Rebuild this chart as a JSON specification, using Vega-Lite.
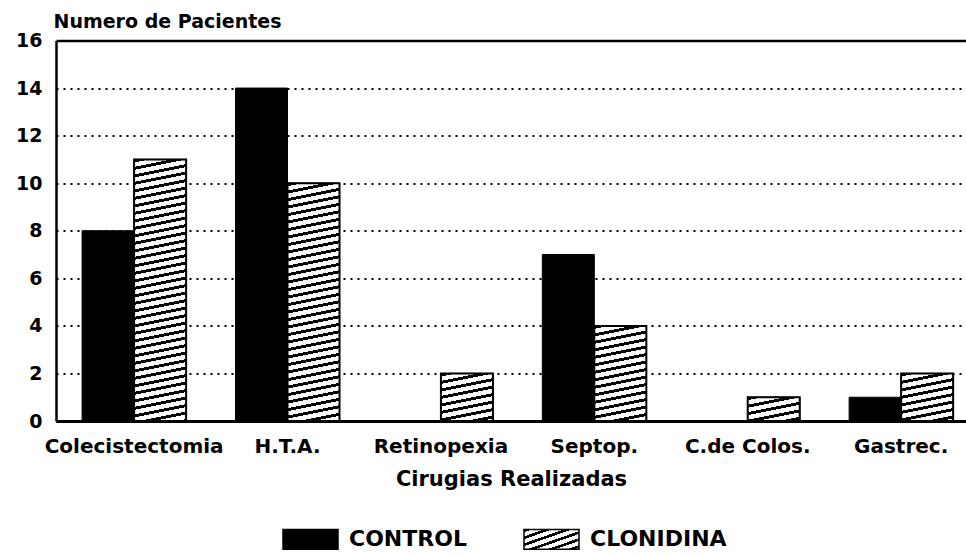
{
  "$schema": "https://vega.github.io/schema/vega-lite/v6.json",
  "autosize": "none",
  "width": 910,
  "height": 380.5,
  "padding": {"left": 56, "top": 40.5, "right": 0, "bottom": 136},
  "background": "white",
  "params": [
    {"name": "hatchStops", "value": [
      {"offset":0,"color":"#000"},{"offset":0.01,"color":"#000"},{"offset":0.01,"color":"#fff"},{"offset":0.025,"color":"#fff"},
      {"offset":0.025,"color":"#000"},{"offset":0.035,"color":"#000"},{"offset":0.035,"color":"#fff"},{"offset":0.05,"color":"#fff"},
      {"offset":0.05,"color":"#000"},{"offset":0.06,"color":"#000"},{"offset":0.06,"color":"#fff"},{"offset":0.075,"color":"#fff"},
      {"offset":0.075,"color":"#000"},{"offset":0.085,"color":"#000"},{"offset":0.085,"color":"#fff"},{"offset":0.1,"color":"#fff"},
      {"offset":0.1,"color":"#000"},{"offset":0.11,"color":"#000"},{"offset":0.11,"color":"#fff"},{"offset":0.125,"color":"#fff"},
      {"offset":0.125,"color":"#000"},{"offset":0.135,"color":"#000"},{"offset":0.135,"color":"#fff"},{"offset":0.15,"color":"#fff"},
      {"offset":0.15,"color":"#000"},{"offset":0.16,"color":"#000"},{"offset":0.16,"color":"#fff"},{"offset":0.175,"color":"#fff"},
      {"offset":0.175,"color":"#000"},{"offset":0.185,"color":"#000"},{"offset":0.185,"color":"#fff"},{"offset":0.2,"color":"#fff"},
      {"offset":0.2,"color":"#000"},{"offset":0.21,"color":"#000"},{"offset":0.21,"color":"#fff"},{"offset":0.225,"color":"#fff"},
      {"offset":0.225,"color":"#000"},{"offset":0.235,"color":"#000"},{"offset":0.235,"color":"#fff"},{"offset":0.25,"color":"#fff"},
      {"offset":0.25,"color":"#000"},{"offset":0.26,"color":"#000"},{"offset":0.26,"color":"#fff"},{"offset":0.275,"color":"#fff"},
      {"offset":0.275,"color":"#000"},{"offset":0.285,"color":"#000"},{"offset":0.285,"color":"#fff"},{"offset":0.3,"color":"#fff"},
      {"offset":0.3,"color":"#000"},{"offset":0.31,"color":"#000"},{"offset":0.31,"color":"#fff"},{"offset":0.325,"color":"#fff"},
      {"offset":0.325,"color":"#000"},{"offset":0.335,"color":"#000"},{"offset":0.335,"color":"#fff"},{"offset":0.35,"color":"#fff"},
      {"offset":0.35,"color":"#000"},{"offset":0.36,"color":"#000"},{"offset":0.36,"color":"#fff"},{"offset":0.375,"color":"#fff"},
      {"offset":0.375,"color":"#000"},{"offset":0.385,"color":"#000"},{"offset":0.385,"color":"#fff"},{"offset":0.4,"color":"#fff"},
      {"offset":0.4,"color":"#000"},{"offset":0.41,"color":"#000"},{"offset":0.41,"color":"#fff"},{"offset":0.425,"color":"#fff"},
      {"offset":0.425,"color":"#000"},{"offset":0.435,"color":"#000"},{"offset":0.435,"color":"#fff"},{"offset":0.45,"color":"#fff"},
      {"offset":0.45,"color":"#000"},{"offset":0.46,"color":"#000"},{"offset":0.46,"color":"#fff"},{"offset":0.475,"color":"#fff"},
      {"offset":0.475,"color":"#000"},{"offset":0.485,"color":"#000"},{"offset":0.485,"color":"#fff"},{"offset":0.5,"color":"#fff"},
      {"offset":0.5,"color":"#000"},{"offset":0.51,"color":"#000"},{"offset":0.51,"color":"#fff"},{"offset":0.525,"color":"#fff"},
      {"offset":0.525,"color":"#000"},{"offset":0.535,"color":"#000"},{"offset":0.535,"color":"#fff"},{"offset":0.55,"color":"#fff"},
      {"offset":0.55,"color":"#000"},{"offset":0.56,"color":"#000"},{"offset":0.56,"color":"#fff"},{"offset":0.575,"color":"#fff"},
      {"offset":0.575,"color":"#000"},{"offset":0.585,"color":"#000"},{"offset":0.585,"color":"#fff"},{"offset":0.6,"color":"#fff"},
      {"offset":0.6,"color":"#000"},{"offset":0.61,"color":"#000"},{"offset":0.61,"color":"#fff"},{"offset":0.625,"color":"#fff"},
      {"offset":0.625,"color":"#000"},{"offset":0.635,"color":"#000"},{"offset":0.635,"color":"#fff"},{"offset":0.65,"color":"#fff"},
      {"offset":0.65,"color":"#000"},{"offset":0.66,"color":"#000"},{"offset":0.66,"color":"#fff"},{"offset":0.675,"color":"#fff"},
      {"offset":0.675,"color":"#000"},{"offset":0.685,"color":"#000"},{"offset":0.685,"color":"#fff"},{"offset":0.7,"color":"#fff"},
      {"offset":0.7,"color":"#000"},{"offset":0.71,"color":"#000"},{"offset":0.71,"color":"#fff"},{"offset":0.725,"color":"#fff"},
      {"offset":0.725,"color":"#000"},{"offset":0.735,"color":"#000"},{"offset":0.735,"color":"#fff"},{"offset":0.75,"color":"#fff"},
      {"offset":0.75,"color":"#000"},{"offset":0.76,"color":"#000"},{"offset":0.76,"color":"#fff"},{"offset":0.775,"color":"#fff"},
      {"offset":0.775,"color":"#000"},{"offset":0.785,"color":"#000"},{"offset":0.785,"color":"#fff"},{"offset":0.8,"color":"#fff"},
      {"offset":0.8,"color":"#000"},{"offset":0.81,"color":"#000"},{"offset":0.81,"color":"#fff"},{"offset":0.825,"color":"#fff"},
      {"offset":0.825,"color":"#000"},{"offset":0.835,"color":"#000"},{"offset":0.835,"color":"#fff"},{"offset":0.85,"color":"#fff"},
      {"offset":0.85,"color":"#000"},{"offset":0.86,"color":"#000"},{"offset":0.86,"color":"#fff"},{"offset":0.875,"color":"#fff"},
      {"offset":0.875,"color":"#000"},{"offset":0.885,"color":"#000"},{"offset":0.885,"color":"#fff"},{"offset":0.9,"color":"#fff"},
      {"offset":0.9,"color":"#000"},{"offset":0.91,"color":"#000"},{"offset":0.91,"color":"#fff"},{"offset":0.925,"color":"#fff"},
      {"offset":0.925,"color":"#000"},{"offset":0.935,"color":"#000"},{"offset":0.935,"color":"#fff"},{"offset":0.95,"color":"#fff"},
      {"offset":0.95,"color":"#000"},{"offset":0.96,"color":"#000"},{"offset":0.96,"color":"#fff"},{"offset":0.975,"color":"#fff"},
      {"offset":0.975,"color":"#000"},{"offset":0.985,"color":"#000"},{"offset":0.985,"color":"#fff"},{"offset":1,"color":"#fff"}
    ]}
  ],
  "data": {"values": [
    {"cirugia": "Colecistectomia", "grupo": "CONTROL", "pacientes": 8},
    {"cirugia": "Colecistectomia", "grupo": "CLONIDINA", "pacientes": 11},
    {"cirugia": "H.T.A.", "grupo": "CONTROL", "pacientes": 14},
    {"cirugia": "H.T.A.", "grupo": "CLONIDINA", "pacientes": 10},
    {"cirugia": "Retinopexia", "grupo": "CONTROL", "pacientes": 0},
    {"cirugia": "Retinopexia", "grupo": "CLONIDINA", "pacientes": 2},
    {"cirugia": "Septop.", "grupo": "CONTROL", "pacientes": 7},
    {"cirugia": "Septop.", "grupo": "CLONIDINA", "pacientes": 4},
    {"cirugia": "C.de Colos.", "grupo": "CONTROL", "pacientes": 0},
    {"cirugia": "C.de Colos.", "grupo": "CLONIDINA", "pacientes": 1},
    {"cirugia": "Gastrec.", "grupo": "CONTROL", "pacientes": 1},
    {"cirugia": "Gastrec.", "grupo": "CLONIDINA", "pacientes": 2}
  ]},
  "encoding": {
    "x": {
      "field": "cirugia", "type": "nominal", "sort": null,
      "scale": {"paddingInner": 0.322, "paddingOuter": 0.127, "align": 0.67},
      "axis": {
        "title": "Cirugias Realizadas",
        "labelAngle": 0,
        "labelFontSize": 20,
        "labelBaseline": "alphabetic",
        "labelPadding": 31,
        "ticks": false,
        "tickSize": 0,
        "grid": false,
        "domainColor": "#000",
        "domainWidth": 3,
        "titleFontSize": 21,
        "titleBaseline": "alphabetic",
        "titleY": 64
      }
    },
    "xOffset": {
      "field": "grupo", "type": "nominal",
      "scale": {"domain": ["CONTROL", "CLONIDINA"], "paddingInner": 0, "paddingOuter": 0}
    },
    "y": {
      "field": "pacientes", "type": "quantitative",
      "scale": {"domain": [0, 16], "nice": false},
      "axis": {
        "title": "Numero de Pacientes",
        "values": [0, 2, 4, 6, 8, 10, 12, 14, 16],
        "labelFontSize": 19,
        "labelPadding": 14,
        "ticks": false,
        "tickSize": 0,
        "domainColor": "#000",
        "domainWidth": 2.5,
        "grid": true,
        "gridColor": "#000",
        "gridOpacity": 1,
        "gridWidth": {"condition": {"test": "datum.value === 16", "value": 2.5}, "value": 2},
        "gridDash": {"condition": {"test": "datum.value === 16", "value": []}, "value": [2, 5]},
        "titleAngle": 0,
        "titleAlign": "left",
        "titleBaseline": "alphabetic",
        "titleX": -3,
        "titleY": -13.5,
        "titleFontSize": 19
      }
    }
  },
  "layer": [
    {
      "mark": {"type": "bar", "stroke": "#000", "strokeWidth": 1},
      "encoding": {
        "fill": {
          "field": "grupo", "type": "nominal",
          "scale": {
            "domain": ["CONTROL", "CLONIDINA"],
            "range": ["#000", {"expr": "{gradient: 'linear', x1: 0, y1: 0, x2: 7.07, y2: 7.27, stops: hatchStops}"}]
          },
          "legend": {
            "title": null,
            "orient": "none",
            "legendX": 226,
            "legendY": 470,
            "direction": "horizontal",
            "padding": 0,
            "symbolType": "M-1,-0.36H1V0.36H-1Z",
            "symbolSize": 3025,
            "symbolStrokeColor": "#000",
            "symbolStrokeWidth": 1.5,
            "labelFontSize": 22,
            "labelFont": "DejaVu Sans",
            "labelFontWeight": "bold",
            "labelColor": "#000",
            "labelOffset": 10,
            "columnPadding": 54
          }
        }
      }
    },
    {
      "transform": [{"filter": "datum.grupo === 'CLONIDINA'"}],
      "mark": {"type": "bar", "stroke": "#000", "strokeWidth": 2},
      "encoding": {
        "fill": {"value": {"expr": "{gradient: 'linear', x1: 0, y1: 0, x2: 0.034667 / (0.0012018 + pow(datum.pacientes * height / 4800, 2)), y2: (datum.pacientes * height / 4800) / (0.0012018 + pow(datum.pacientes * height / 4800, 2)), stops: hatchStops}"}}
      }
    }
  ],
  "config": {
    "font": "DejaVu Sans",
    "view": {"stroke": null},
    "axis": {
      "labelFont": "DejaVu Sans",
      "labelFontWeight": "bold",
      "labelColor": "#000",
      "titleFont": "DejaVu Sans",
      "titleFontWeight": "bold",
      "titleColor": "#000"
    }
  }
}
